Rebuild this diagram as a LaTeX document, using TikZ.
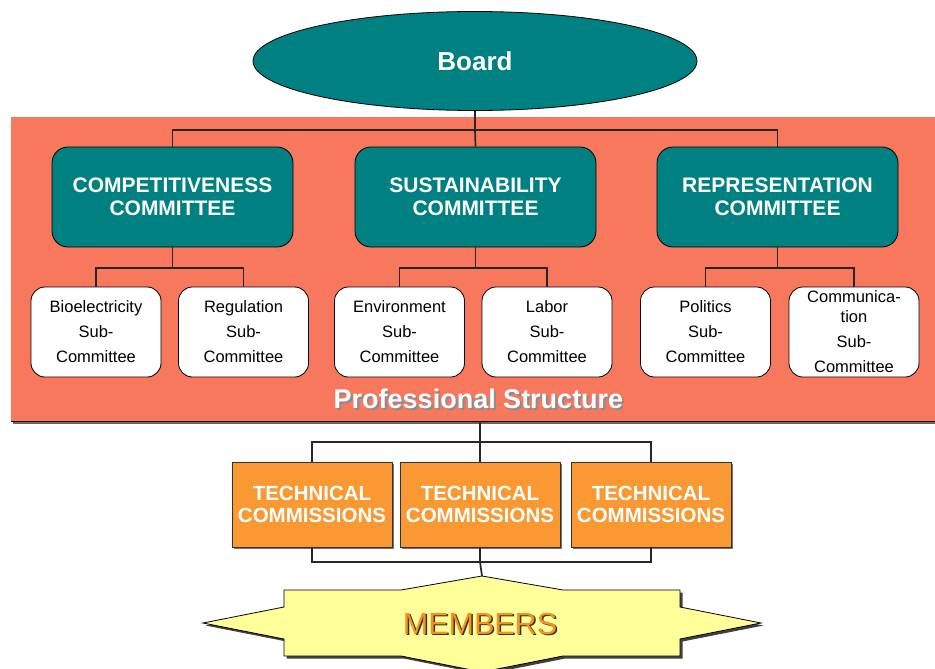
\documentclass[tikz,border=0pt]{standalone}
\usepackage{fontspec}
\setmainfont{Liberation Sans}
\usetikzlibrary{shapes.geometric}
\definecolor{tealc}{RGB}{0,128,128}
\definecolor{salmon}{RGB}{248,120,94}
\definecolor{orangec}{RGB}{250,152,50}
\definecolor{paleyellow}{RGB}{255,255,153}
\definecolor{memtext}{RGB}{247,146,30}
% text with a soft drop shadow: #1 shadow colour, #2 offset, #3 text
\newcommand{\shadowtext}[3]{\rlap{\kern#2\raisebox{-#2}{\textcolor{#1}{#3}}}#3}
\tikzset{
  committee/.style={draw=black, line width=0.8pt, fill=tealc, rounded corners=16pt,
    minimum width=241pt, minimum height=100pt, inner sep=0pt, align=center, text=white,
    font=\fontsize{21}{23.5}\selectfont\bfseries},
  subbox/.style={draw=black, line width=0.8pt, fill=white, rounded corners=14pt,
    minimum width=130pt, minimum height=90pt, inner sep=0pt, align=center,
    font=\fontsize{16.5}{25}\selectfont},
  techbox/.style={draw=black!80, line width=0.8pt, fill=orangec,
    minimum width=160pt, minimum height=85pt, inner sep=0pt, align=center, text=white,
    font=\fontsize{20.5}{22}\selectfont\bfseries},
  link/.style={line width=1.7pt, draw=black!85},
}
\begin{document}
\begin{tikzpicture}[x=1pt,y=-1pt]
\useasboundingbox (0,0) rectangle (935,669);

% professional structure band
\fill[black!60] (13,118) rectangle (935,424);
\fill[salmon] (11,117) rectangle (935,421);
\draw[black, line width=0.8pt] (11,421) -- (935,421);

% board
\node[ellipse, draw=black, line width=0.8pt, fill=tealc, minimum width=444pt, minimum height=99pt,
      inner sep=0pt, text=white, font=\fontsize{26}{28}\selectfont\bfseries] (board) at (475,61) {Board};

% committees
\node[committee] (comp) at (172.5,197) {COMPETITIVENESS\\COMMITTEE};
\node[committee] (sust) at (475.5,197) {SUSTAINABILITY\\COMMITTEE};
\node[committee] (rep)  at (777.5,197) {REPRESENTATION\\COMMITTEE};

% sub-committees
\node[subbox] (bio) at (96,332)    {Bioelectricity\\Sub-\\Committee};
\node[subbox] (reg) at (243.5,332) {Regulation\\Sub-\\Committee};
\node[subbox] (env) at (399.5,332) {Environment\\Sub-\\Committee};
\node[subbox] (lab) at (547,332)   {Labor\\Sub-\\Committee};
\node[subbox] (pol) at (705.5,332) {Politics\\Sub-\\Committee};
\node[subbox] (com) at (854,332)   {Communica-\\[-5pt]tion\\Sub-\\Committee};

% band title
\node[anchor=base, text=white, font=\fontsize{27}{29}\selectfont\bfseries] (pstitle) at (478.5,408)
  {\shadowtext{black!45}{2pt}{Professional Structure}};

% technical commissions
\foreach \x in {312,480,651} \fill[black!55] (\x-78,464) rectangle (\x+82,549);
\node[techbox] (tc1) at (312,504.5) {TECHNICAL\\COMMISSIONS};
\node[techbox] (tc2) at (480,504.5) {TECHNICAL\\COMMISSIONS};
\node[techbox] (tc3) at (651,504.5) {TECHNICAL\\COMMISSIONS};

% members banner
\fill[black!75, shift={(2.5,2.5)}]
  (284,590) -- (401,590) -- (482,576) -- (563,590) -- (680,590) -- (680,607) -- (761,623)
  -- (680,639) -- (680,656) -- (563,656) -- (482,672) -- (401,656) -- (284,656) -- (284,639)
  -- (203,623) -- (284,607) -- cycle;
\filldraw[fill=paleyellow, draw=black, line width=0.8pt]
  (284,590) -- (401,590) -- (482,576) -- (563,590) -- (680,590) -- (680,607) -- (761,623)
  -- (680,639) -- (680,656) -- (563,656) -- (482,672) -- (401,656) -- (284,656) -- (284,639)
  -- (203,623) -- (284,607) -- cycle;
\coordinate (mtop) at (482,576);
\node[anchor=base, text=memtext, font=\fontsize{30.5}{32}\selectfont] (members) at (480,634)
  {\shadowtext{black!80}{1.5pt}{MEMBERS}};

% connectors: board to committees
\coordinate (busA) at (475,130);
\draw[link] (board.south) -- (busA);
\draw[link] (comp.north) |- (busA) -| (rep.north);
\draw[link] (busA) -- (sust.north);

% committees to sub-committees
\coordinate (busB) at (172.5,268);
\draw[link] (comp.south) -- (busB);
\draw[link] (bio.north) |- (busB) -| (reg.north);
\coordinate (busC) at (475.5,268);
\draw[link] (sust.south) -- (busC);
\draw[link] (env.north) |- (busC) -| (lab.north);
\coordinate (busD) at (777.5,268);
\draw[link] (rep.south) -- (busD);
\draw[link] (pol.north) |- (busD) -| (com.north);

% band to technical commissions
\coordinate (bandfoot) at (480,421);
\coordinate (busE) at (480,442);
\draw[link] (bandfoot) -- (busE);
\draw[link] (tc1.north) |- (busE) -| (tc3.north);
\draw[link] (busE) -- (tc2.north);

% technical commissions to members
\coordinate (busF) at (480,562);
\draw[link] (tc1.south) |- (busF) -| (tc3.south);
\draw[link] (tc2.south) -- (busF);
\draw[link] (busF) -- (mtop);
\end{tikzpicture}
\end{document}
